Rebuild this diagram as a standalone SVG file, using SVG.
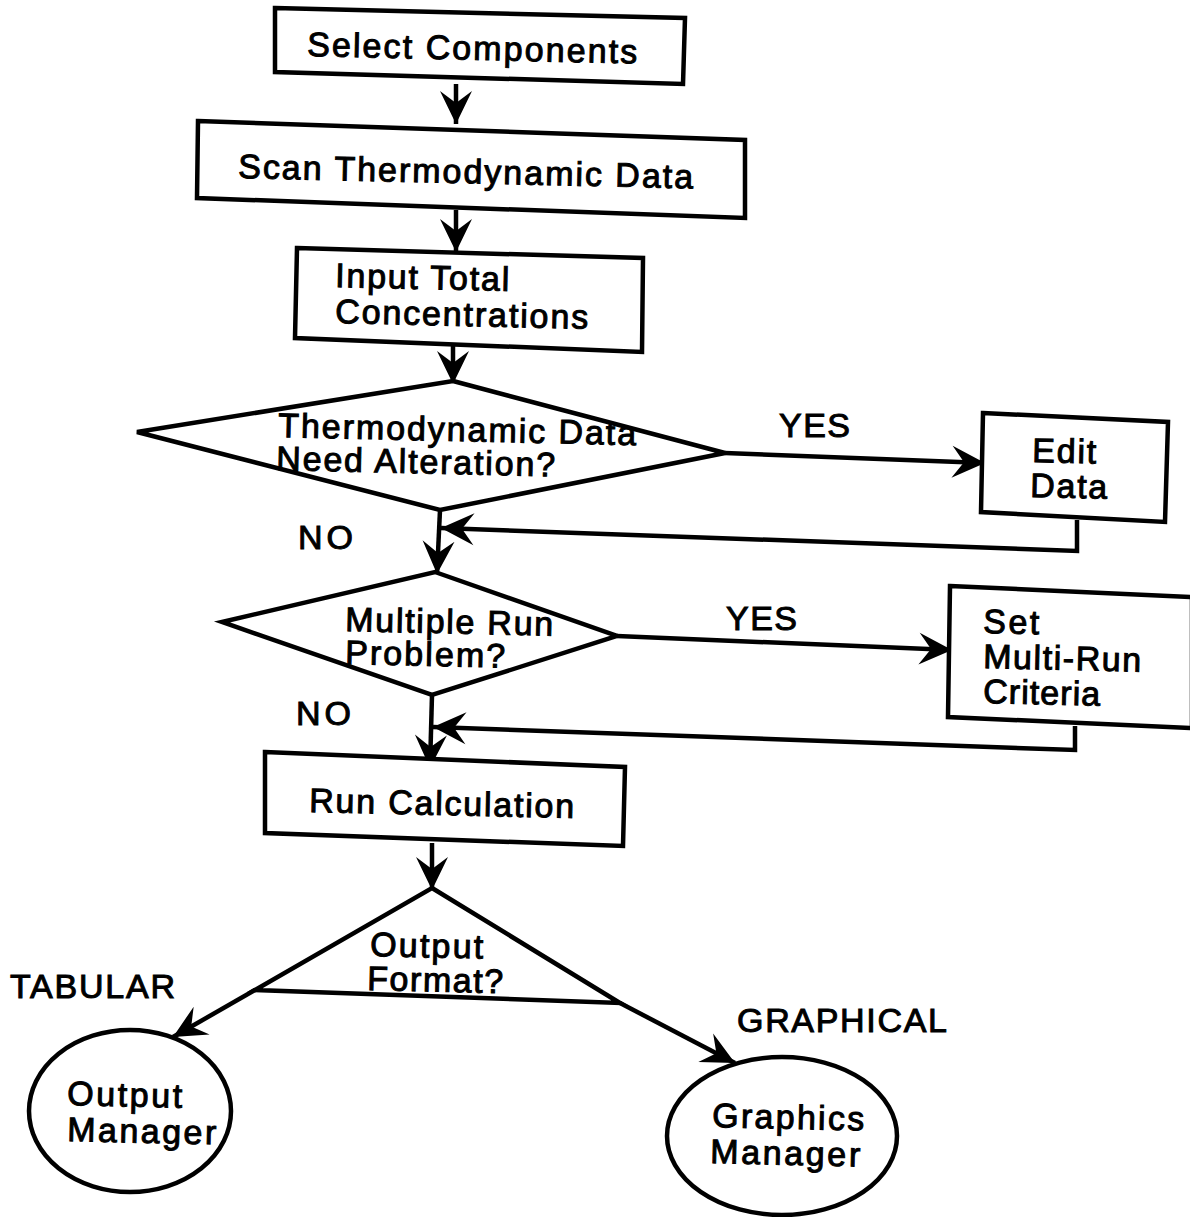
<svg xmlns="http://www.w3.org/2000/svg" width="1190" height="1217" viewBox="0 0 1190 1217">
<defs>
<marker id="ah" markerUnits="userSpaceOnUse" markerWidth="40" markerHeight="40" viewBox="-36 -18 40 36" refX="0" refY="0" orient="auto">
<path d="M0,0 L-33,-16 L-21,0 L-33,16 Z" fill="#000"/>
</marker>
</defs>
<style>
.s{fill:#fff;stroke:#000;stroke-width:4.5;stroke-linejoin:miter}
.c{fill:none;stroke:#000;stroke-width:4.5}
.t{font-family:"Liberation Sans",Arial,sans-serif;font-size:34px;fill:#000;stroke:#000;stroke-width:1}
</style>
<rect width="1190" height="1217" fill="#fff"/>
<g id="connectors">
<line class="c" x1="456" y1="84" x2="456" y2="124" marker-end="url(#ah)"/>
<line class="c" x1="456" y1="210" x2="456" y2="252" marker-end="url(#ah)"/>
<line class="c" x1="453" y1="345" x2="453" y2="384" marker-end="url(#ah)"/>
<line class="c" x1="440" y1="510" x2="437" y2="574" marker-end="url(#ah)"/>
<line class="c" x1="725" y1="453" x2="985" y2="463" marker-end="url(#ah)"/>
<polyline class="c" points="1077,520 1077,551 441,528" marker-end="url(#ah)"/>
<line class="c" x1="432" y1="695" x2="430" y2="768" marker-end="url(#ah)"/>
<line class="c" x1="617" y1="636" x2="952" y2="650" marker-end="url(#ah)"/>
<polyline class="c" points="1075,726 1075,750 433,727" marker-end="url(#ah)"/>
<line class="c" x1="432" y1="843" x2="432" y2="890" marker-end="url(#ah)"/>
<line class="c" x1="255" y1="990" x2="173" y2="1037" marker-end="url(#ah)"/>
<line class="c" x1="620" y1="1003" x2="735" y2="1063" marker-end="url(#ah)"/>
</g>
<g id="select-components">
<polygon class="s" points="275,8 685,18 683,84 275,72"/>
<text class="t" x="307" y="56" textLength="330" transform="rotate(1.3 307 56)">Select Components</text>
</g>
<g id="scan-data">
<polygon class="s" points="198,121 745,140 745,218 197,198"/>
<text class="t" x="238" y="178" textLength="455" transform="rotate(1.3 238 178)">Scan Thermodynamic Data</text>
</g>
<g id="input-total">
<polygon class="s" points="297,248 643,258 642,352 295,338"/>
<text class="t" x="335" y="287" textLength="174" transform="rotate(1.3 335 287)">Input Total</text>
<text class="t" x="335" y="323" textLength="253" transform="rotate(1.3 335 323)">Concentrations</text>
</g>
<g id="decision-alteration">
<polygon class="s" points="453,381 725,453 440,510 137,432"/>
<text class="t" x="278" y="437" textLength="358" transform="rotate(1.3 278 437)">Thermodynamic Data</text>
<text class="t" x="276" y="470" textLength="279" transform="rotate(1.3 276 470)">Need Alteration?</text>
</g>
<g id="edit-data">
<polygon class="s" points="983,413 1168,422 1165,522 981,512"/>
<text class="t" x="1032" y="462" textLength="64" transform="rotate(1.3 1032 462)">Edit</text>
<text class="t" x="1030" y="497" textLength="77" transform="rotate(1.3 1030 497)">Data</text>
</g>
<g id="decision-multirun">
<polygon class="s" points="435,572 617,636 432,695 222,622"/>
<text class="t" x="345" y="631" textLength="208" transform="rotate(1.3 345 631)">Multiple Run</text>
<text class="t" x="345" y="664" textLength="160" transform="rotate(1.3 345 664)">Problem?</text>
</g>
<g id="set-multirun">
<polygon class="s" points="950,586 1192,597 1192,728 948,717"/>
<text class="t" x="983" y="633" textLength="56" transform="rotate(1.3 983 633)">Set</text>
<text class="t" x="983" y="668" textLength="158" transform="rotate(1.3 983 668)">Multi-Run</text>
<text class="t" x="983" y="703" textLength="117" transform="rotate(1.3 983 703)">Criteria</text>
</g>
<g id="run-calculation">
<polygon class="s" points="265,752 625,767 623,846 265,833"/>
<text class="t" x="309" y="812" textLength="265" transform="rotate(1.3 309 812)">Run Calculation</text>
</g>
<g id="output-format">
<polygon class="s" points="432,888 620,1003 255,990"/>
<text class="t" x="370" y="956" textLength="113" transform="rotate(1.3 370 956)">Output</text>
<text class="t" x="367" y="990" textLength="136" transform="rotate(1.3 367 990)">Format?</text>
</g>
<g id="output-manager">
<ellipse class="s" cx="130" cy="1111" rx="101" ry="81"/>
<text class="t" x="67" y="1105" textLength="115" transform="rotate(1.3 67 1105)">Output</text>
<text class="t" x="67" y="1141" textLength="149" transform="rotate(1.3 67 1141)">Manager</text>
</g>
<g id="graphics-manager">
<ellipse class="s" cx="782" cy="1136" rx="115" ry="79"/>
<text class="t" x="712" y="1127" textLength="152" transform="rotate(1.3 712 1127)">Graphics</text>
<text class="t" x="710" y="1163" textLength="150" transform="rotate(1.3 710 1163)">Manager</text>
</g>
<g id="labels">
<text class="t" x="779" y="437" textLength="71">YES</text>
<text class="t" x="298" y="549" textLength="55">NO</text>
<text class="t" x="726" y="630" textLength="71">YES</text>
<text class="t" x="296" y="725" textLength="55">NO</text>
<text class="t" x="10" y="998" textLength="165">TABULAR</text>
<text class="t" x="737" y="1032" textLength="210">GRAPHICAL</text>
</g>
</svg>
